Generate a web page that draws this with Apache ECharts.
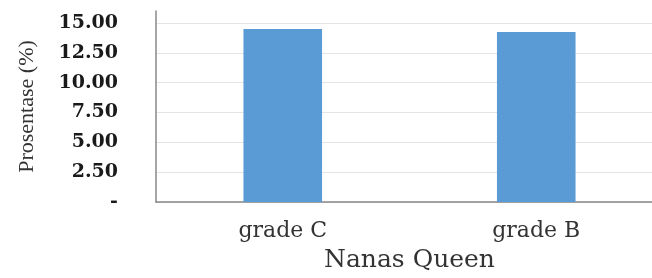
<!DOCTYPE html>
<html><head><meta charset="utf-8">
<script src="https://cdn.jsdelivr.net/npm/echarts@6/dist/echarts.min.js"></script>
<style>html,body{margin:0;padding:0;background:#fff;overflow:hidden;width:652px;height:278px}#c{width:663px;height:278px}</style>
</head><body><div id="c"></div>
<script>
const categories = ['grade C', 'grade B'];
const values = [14.5, 14.25];
const xName = 'Nanas Queen';
const yName = 'Prosentase (%)';

const chart = echarts.init(document.getElementById('c'));
chart.setOption({
  animation: false,
  grid: { left: 156, right: 0, top: 11, bottom: 76, containLabel: false },
  xAxis: {
    type: 'category', data: categories,
    name: xName, nameLocation: 'middle', nameGap: 46,
    nameTextStyle: { fontFamily: 'DejaVu Serif', fontSize: 25, color: '#333' },
    axisLine: { lineStyle: { color: '#888', width: 1.5 } },
    axisTick: { show: false },
    axisLabel: { fontFamily: 'DejaVu Serif', fontSize: 22, color: '#333', margin: 18 }
  },
  yAxis: {
    type: 'value', min: 0, max: 16, interval: 2.5,
    name: yName, nameLocation: 'middle', nameGap: 118, nameRotate: 90,
    nameTextStyle: { fontFamily: 'Liberation Serif', fontSize: 22, color: '#333' },
    axisLine: { show: true, lineStyle: { color: '#888', width: 1.5 } },
    axisTick: { show: false },
    axisLabel: {
      showMaxLabel: false,
      fontFamily: 'DejaVu Serif', fontWeight: 'bold', fontSize: 19, color: '#1a1a1a', margin: 38,
      align: 'right',
      formatter: v => v === 0 ? '-' : v.toFixed(2)
    },
    splitLine: { showMaxLine: false, lineStyle: { color: '#e4e4e4' } }
  },
  series: [{
    type: 'bar', data: values, barWidth: '31%',
    itemStyle: { color: '#5b9bd5' }
  }]
});
</script></body></html>
